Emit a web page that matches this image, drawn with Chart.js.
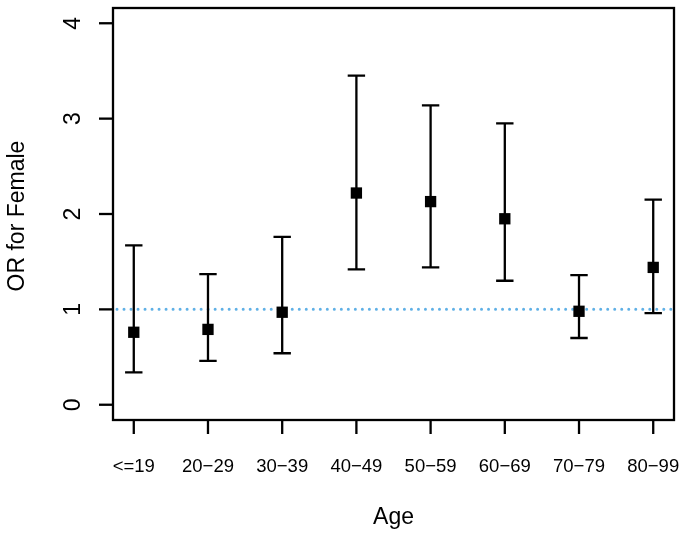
<!DOCTYPE html>
<html>
<head>
<meta charset="utf-8">
<script src="https://cdn.jsdelivr.net/npm/chart.js@4/dist/chart.umd.min.js"></script>
<style>
  html, body { margin: 0; padding: 0; background: #fff; }
  #wrap { width: 685px; height: 536px; }
</style>
</head>
<body>
<div id="wrap"><canvas id="orChart" width="685" height="536"></canvas></div>
<script>
// ── Data ──
const ageGroups = ['<=19', '20\u221229', '30\u221239', '40\u221249', '50\u221259', '60\u221269', '70\u221279', '80\u221299'];
const orValues = [0.76, 0.79, 0.97, 2.22, 2.13, 1.95, 0.98, 1.44];
const ciLower  = [0.34, 0.46, 0.54, 1.42, 1.44, 1.30, 0.70, 0.96];
const ciUpper  = [1.67, 1.37, 1.76, 3.45, 3.14, 2.95, 1.36, 2.15];
const yTicks = [0, 1, 2, 3, 4];
const refLine = 1;

const FONT = '"Liberation Sans", Arial, Helvetica, sans-serif';

// ── R-style axes, reference line and error bars ──
const rPlot = {
  id: 'rPlot',
  beforeDatasetsDraw(chart) {
    const { ctx, chartArea: a, scales: { x, y } } = chart;
    ctx.save();

    // dotted reference line at OR = 1
    ctx.strokeStyle = '#5fb0e6';
    ctx.lineWidth = 3;
    ctx.setLineDash([0.01, 7]);
    ctx.lineCap = 'round';
    const yr = y.getPixelForValue(refLine);
    ctx.beginPath();
    ctx.moveTo(a.left + 4, yr);
    ctx.lineTo(a.right - 2, yr);
    ctx.stroke();
    ctx.setLineDash([]);
    ctx.lineCap = 'butt';

    // error bars
    ctx.strokeStyle = '#000';
    ctx.lineWidth = 2.3;
    ageGroups.forEach((g, i) => {
      const px = x.getPixelForValue(i + 1);
      const lo = y.getPixelForValue(ciLower[i]);
      const hi = y.getPixelForValue(ciUpper[i]);
      ctx.beginPath();
      ctx.moveTo(px, lo); ctx.lineTo(px, hi);
      ctx.moveTo(px - 8.7, lo); ctx.lineTo(px + 8.7, lo);
      ctx.moveTo(px - 8.7, hi); ctx.lineTo(px + 8.7, hi);
      ctx.stroke();
    });
    ctx.restore();
  },
  afterDraw(chart) {
    const { ctx, chartArea: a, scales: { x, y } } = chart;
    ctx.save();
    ctx.strokeStyle = '#000';
    ctx.fillStyle = '#000';
    ctx.lineWidth = 2.3;

    // box
    ctx.strokeRect(a.left, a.top, a.right - a.left, a.bottom - a.top);

    // x ticks + labels
    ctx.font = '18.5px ' + FONT;
    ctx.textAlign = 'center';
    ctx.textBaseline = 'alphabetic';
    ageGroups.forEach((g, i) => {
      const px = x.getPixelForValue(i + 1);
      ctx.beginPath();
      ctx.moveTo(px, a.bottom); ctx.lineTo(px, a.bottom + 14);
      ctx.stroke();
      ctx.fillText(g, px, 472);
    });

    // y ticks + rotated labels
    ctx.font = '23px ' + FONT;
    yTicks.forEach(t => {
      const py = y.getPixelForValue(t);
      ctx.beginPath();
      ctx.moveTo(a.left, py); ctx.lineTo(a.left - 14, py);
      ctx.stroke();
      ctx.save();
      ctx.translate(80, py);
      ctx.rotate(-Math.PI / 2);
      ctx.fillText(String(t), 0, 0);
      ctx.restore();
    });

    // axis titles
    ctx.font = '23px ' + FONT;
    ctx.fillText('Age', (a.left + a.right) / 2, 524);
    ctx.save();
    ctx.translate(24, (a.top + a.bottom) / 2 + 2);
    ctx.rotate(-Math.PI / 2);
    ctx.fillText('OR for Female', 0, 0);
    ctx.restore();

    ctx.restore();
  }
};

new Chart(document.getElementById('orChart'), {
  type: 'scatter',
  data: {
    datasets: [{
      label: 'OR',
      data: ageGroups.map((g, i) => ({ x: i + 1, y: orValues[i] })),
      pointStyle: 'rect',
      pointRadius: 8,
      pointHoverRadius: 8,
      backgroundColor: '#000',
      borderColor: '#000',
      borderWidth: 0,
    }],
  },
  options: {
    responsive: false,
    animation: false,
    devicePixelRatio: 1,
    layout: { padding: { left: 113, right: 11, top: 5, bottom: 116 } },
    plugins: { legend: { display: false }, tooltip: { enabled: false } },
    scales: {
      x: { type: 'linear', min: 0.72, max: 8.28, display: false },
      y: { type: 'linear', min: -0.16, max: 4.16, display: false },
    },
  },
  plugins: [rPlot],
});
</script>
</body>
</html>
